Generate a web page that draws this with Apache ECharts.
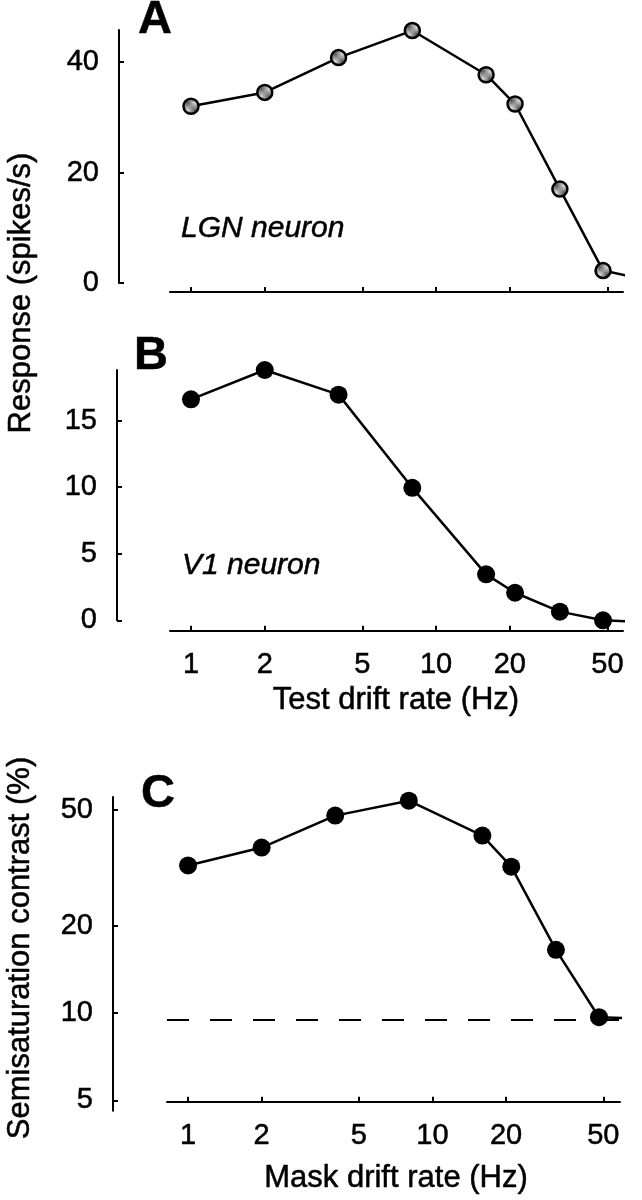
<!DOCTYPE html>
<html>
<head>
<meta charset="utf-8">
<script src="https://cdn.jsdelivr.net/npm/echarts@6/dist/echarts.min.js"></script>
<style>
  html, body { margin: 0; padding: 0; background: #fff; }
  #chart { width: 642px; height: 1200px; }
</style>
</head>
<body>
<div id="chart"></div>
<script>
// ---- data ----
const xRates     = [1, 2, 4, 8, 16, 21, 32, 48];          // drift rate (Hz)
const lgnResp    = [32.0, 34.5, 40.8, 45.7, 37.7, 32.4, 17.0, 2.25]; // spikes/s
const v1Resp     = [16.6, 18.8, 16.95, 9.95, 3.45, 2.07, 0.65, 0.0]; // spikes/s
const semisat    = [32.2, 37.1, 47.8, 53.8, 40.8, 31.9, 16.5, 9.67]; // %
const tailRate   = 64;      // line continues past last point
const lgnTail    = 1.05;
const v1Tail     = -0.1;
const semisatTail = 9.6;
const baselineContrast = 9.5;

const xTickValues   = [1, 2, 5, 10, 20, 50];
const lgnTickValues = [0, 20, 40];
const v1TickValues  = [0, 5, 10, 15];
const ssTickValues  = [5, 10, 20, 50];

const FONT = '"Liberation Sans", Arial, Helvetica, sans-serif';
const THICK = { textBorderColor: '#000', textBorderWidth: 0.5 };

// stipple pattern for LGN markers
const pat = document.createElement('canvas');
pat.width = 2; pat.height = 2;
const pc = pat.getContext('2d');
pc.fillStyle = '#e2e2e2'; pc.fillRect(0, 0, 2, 2);
pc.fillStyle = '#505050'; pc.fillRect(0, 0, 1, 1); pc.fillRect(1, 1, 1, 1);

function pairs(xs, ys, tailX, tailY) {
  const d = xs.map((x, i) => [x, ys[i]]);
  d.push({ value: [tailX, tailY], symbol: 'none' });
  return d;
}

function xAxisDef(gridIndex, min, max, offset, showLabels) {
  return {
    type: 'log', gridIndex, min, max, offset, logBase: 10,
    axisLine: { show: true, onZero: false, lineStyle: { color: '#000', width: 2 } },
    axisTick: { show: true, inside: true, length: 5, lineStyle: { color: '#000', width: 2 }, customValues: xTickValues },
    axisLabel: Object.assign({ show: showLabels, margin: 20, color: '#000', fontSize: 29, fontFamily: FONT, customValues: xTickValues }, THICK),
    splitLine: { show: false }, minorTick: { show: false }
  };
}
function yAxisDef(gridIndex, type, min, max, offset, ticks) {
  return {
    type, gridIndex, min, max, offset,
    axisLine: { show: true, onZero: false, lineStyle: { color: '#000', width: 2 } },
    axisTick: { show: true, inside: true, length: 5, lineStyle: { color: '#000', width: 2 }, customValues: ticks },
    axisLabel: Object.assign({ show: true, margin: 20, color: '#000', fontSize: 29, fontFamily: FONT, customValues: ticks }, THICK),
    splitLine: { show: false }, minorTick: { show: false }
  };
}

const lineCommon = {
  type: 'line', clip: false, symbol: 'circle',
  lineStyle: { color: '#000', width: 2.5 },
  emphasis: { disabled: true }, silent: true, z: 3
};

function txt(x, y, text, font, align, rot) {
  const el = { type: 'text', x, y, style: Object.assign({ text, font: font + ' ' + FONT, fill: '#000', textAlign: align, textVerticalAlign: 'middle', stroke: '#000', lineWidth: 0.5 }) };
  if (rot) el.rotation = rot;
  return el;
}

const chart = echarts.init(document.getElementById('chart'), null, { renderer: 'canvas' });
chart.setOption({
  animation: false,
  backgroundColor: '#fff',
  grid: [
    { left: 170, right: 19, top: 30,  height: 253 },
    { left: 170, right: 19, top: 370, height: 250.3 },
    { left: 167, right: 22, top: 797, height: 313.7 }
  ],
  xAxis: [
    xAxisDef(0, 0.821, 57.9, 9, false),
    xAxisDef(1, 0.821, 57.9, 10.4, true),
    xAxisDef(2, 0.82, 58.5, -9, true)
  ],
  yAxis: [
    yAxisDef(0, 'value', 0, 45.8, 51, lgnTickValues),
    yAxisDef(1, 'value', 0, 18.8, 53, v1TickValues),
    yAxisDef(2, 'log', 4.61, 55.4, 54, ssTickValues)
  ],
  series: [
    Object.assign({}, lineCommon, {
      xAxisIndex: 0, yAxisIndex: 0, symbolSize: 15,
      itemStyle: { color: { image: pat, repeat: 'repeat' }, borderColor: '#000', borderWidth: 2.5 },
      data: pairs(xRates, lgnResp, tailRate, lgnTail)
    }),
    Object.assign({}, lineCommon, {
      xAxisIndex: 1, yAxisIndex: 1, symbolSize: 18,
      itemStyle: { color: '#000' },
      data: pairs(xRates, v1Resp, tailRate, v1Tail)
    }),
    Object.assign({}, lineCommon, {
      xAxisIndex: 2, yAxisIndex: 2, symbolSize: 18,
      itemStyle: { color: '#000' },
      data: pairs(xRates, semisat, tailRate, semisatTail),
      markLine: {
        silent: true, symbol: 'none', label: { show: false },
        lineStyle: { color: '#000', width: 2.2, type: [22, 21] },
        data: [{ yAxis: baselineContrast }]
      }
    })
  ],
  graphic: [
    txt(155, 20, 'A', 'bold 47px', 'center'),
    txt(151, 356, 'B', 'bold 47px', 'center'),
    txt(158, 794, 'C', 'bold 47px', 'center'),
    txt(181, 229, 'LGN neuron', 'italic 30px', 'left'),
    txt(182, 566, 'V1 neuron', 'italic 30px', 'left'),
    txt(21, 293, 'Response (spikes/s)', '31px', 'center', Math.PI / 2),
    txt(20, 948, 'Semisaturation contrast (%)', '31px', 'center', Math.PI / 2),
    txt(396, 700, 'Test drift rate (Hz)', '31px', 'center'),
    txt(396, 1178, 'Mask drift rate (Hz)', '31px', 'center')
  ]
});
</script>
</body>
</html>
